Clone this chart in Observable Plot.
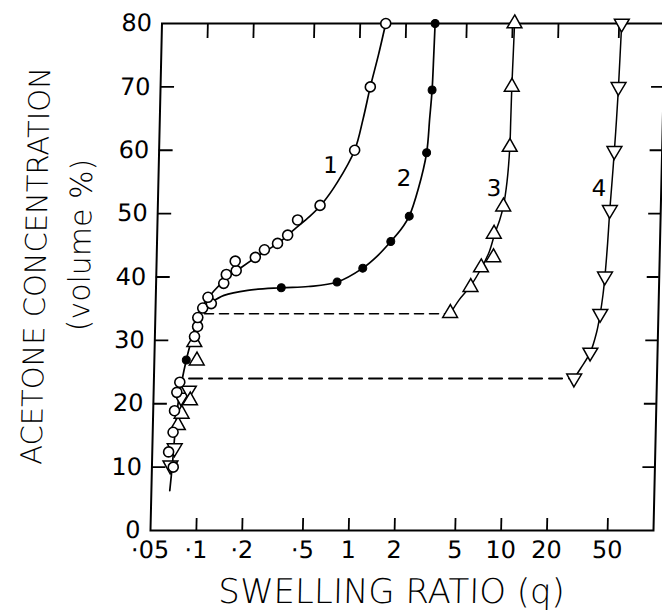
<!DOCTYPE html>
<html>
<head>
<meta charset="utf-8">
<script src="https://cdn.jsdelivr.net/npm/d3@7"></script>
<script src="https://cdn.jsdelivr.net/npm/@observablehq/plot@0.6"></script>
<style>
  html, body { margin: 0; padding: 0; background: #fff; overflow: hidden; }
</style>
</head>
<body>
<div id="chart"></div>
<script>
// ---- Axis ticks and labels ----
const xTickValues = [0.05, 0.1, 0.2, 0.5, 1, 2, 5, 10, 20, 50];
const xTickLabels = ["·05", "·1", "·2", "·5", "1", "2", "5", "10", "20", "50"];
const xInnerTicks = [0.1, 0.2, 0.5, 1, 2, 5, 10, 20, 50];
const yTickValues = [0, 10, 20, 30, 40, 50, 60, 70, 80];
const yInnerTicks = [10, 20, 30, 40, 50, 60, 70];
const xTitle = "SWELLING RATIO (q)";
const yTitle = "ACETONE CONCENTRATION";
const yTitle2 = "(volume %)";

// ---- Curve 1 : open circles  [q, acetone %] ----
const c1Markers = [
  [0.069, 10], [0.064, 12.4], [0.068, 15.5], [0.069, 18.9], [0.071, 21.8], [0.074, 23.4], [0.091, 30.6],
  [0.095, 32.2], [0.095, 33.6], [0.102, 35.1], [0.116, 35.8], [0.110, 36.8],
  [0.139, 39.0], [0.144, 40.4], [0.167, 41.0], [0.164, 42.5], [0.222, 43.1],
  [0.254, 44.3], [0.309, 45.3], [0.359, 46.6], [0.415, 49.0], [0.58, 51.3],
  [0.96, 60], [1.19, 70], [1.47, 80]
];
const c1Line = [
  [0.066, 6.3], [0.068, 10.3], [0.070, 15.3], [0.073, 20.5], [0.081, 26.9], [0.089, 31],
  [0.095, 34], [0.104, 35.8], [0.12, 37.8], [0.145, 39.8], [0.18, 41.5], [0.24, 43.6],
  [0.31, 45.3], [0.40, 47.6], [0.5, 49.6], [0.6, 51.6], [0.75, 55], [0.96, 60],
  [1.08, 65], [1.19, 70], [1.33, 75], [1.47, 80]
];

// ---- Curve 2 : filled circles ----
const c2Markers = [
  [0.081, 26.9], [0.332, 38.3], [0.77, 39.2], [1.13, 41.4], [1.71, 45.6],
  [2.24, 49.6], [2.85, 59.6], [3.03, 69.5], [3.1, 80]
];
const c2Line = [
  [0.116, 36.0], [0.14, 37.1], [0.2, 37.9], [0.332, 38.3], [0.5, 38.5], [0.77, 39.2],
  [1.13, 41.4], [1.4, 43.3], [1.71, 45.6], [2.0, 47.6], [2.24, 49.6], [2.55, 54],
  [2.85, 59.6], [2.95, 65], [3.03, 69.5], [3.07, 75], [3.1, 80]
];

// ---- Curve 3 : open triangles ----
const c3Markers = [
  [0.073, 16.6], [0.077, 18.4], [0.087, 20.5], [0.095, 26.8], [0.091, 29.7],
  [4.3, 34.3], [5.8, 38.4], [6.75, 41.5], [8.1, 43.1], [8.1, 46.8],
  [9.25, 51.1], [10.0, 60.5], [10.1, 70], [10.3, 80]
];
const c3Line = [
  [4.3, 34.2], [4.9, 36.4], [5.8, 38.6], [6.75, 41.3], [7.6, 44], [8.2, 46.8],
  [8.8, 49], [9.25, 51.1], [9.7, 55], [10.0, 60.5], [10.05, 65], [10.1, 70], [10.2, 75], [10.3, 80]
];

// ---- Curve 4 : inverted open triangles ----
const c4Markers = [
  [0.066, 10.3], [0.070, 13], [0.076, 21], [0.085, 22.1],
  [28.6, 24.0], [36.2, 28.1], [41.5, 34.2], [44, 40.1], [46.3, 50.6],
  [48.6, 59.9], [50.6, 70], [52, 80]
];
const c4Line = [
  [28.6, 24], [31.5, 25.6], [36.2, 28.1], [39.5, 31.2], [41.5, 34.2], [43, 37.2],
  [44, 40.1], [45.3, 45.3], [46.3, 50.6], [47.5, 55.3], [48.6, 59.9], [49.7, 65],
  [50.6, 70], [51.3, 75], [52, 80]
];

// ---- Dashed transition lines ----
const dashUpper = [[0.105, 34.2], [4.3, 34.2]];
const dashLower = [[0.085, 24.0], [28.6, 24.0]];

// ---- Curve number labels ----
const curveLabelText = ["1", "2", "3", "4"];
const curveLabelX = [0.67, 2.04, 7.98, 39];
const curveLabelY = [57.6, 55.5, 53.9, 53.9];
const curveLabels = curveLabelText.map((t, i) => ({t, x: curveLabelX[i], y: curveLabelY[i]}));

// ---------------------------------------------------
const W = 662, H = 611;
const mL = 150, mR = 9, mT = 23, mB = 81;
const fw = W - mL - mR, fh = H - mT - mB;
const qx = d => d[0], qy = d => d[1];

const invTriangle = {
  draw(context, size) {
    const s3 = Math.sqrt(3);
    const y = -Math.sqrt(size / (s3 * 3));
    context.moveTo(0, -y * 2);
    context.lineTo(-s3 * y, y);
    context.lineTo(s3 * y, y);
    context.closePath();
  }
};

const font = "DejaVu Sans, Liberation Sans, sans-serif";

const chart = Plot.plot({
  width: W, height: H,
  marginLeft: mL, marginRight: mR, marginTop: mT, marginBottom: mB,
  style: {fontFamily: font, background: "#fff", color: "#000"},
  x: {type: "log", domain: [0.05, 100], label: null, axis: null},
  y: {domain: [0, 80], label: null},
  marks: [
    // tick labels
    Plot.text(xTickValues, {x: d => d, text: (d, i) => xTickLabels[i], frameAnchor: "bottom", lineAnchor: "top", dy: 10, fontSize: 24, fill: "#000"}),
    Plot.axisY(yTickValues, {tickSize: 0, tickPadding: 10, fontSize: 24, label: null}),
    // inward tick marks on all four sides
    Plot.tickX(xInnerTicks, {x: d => d, insetTop: fh - 12, stroke: "#000", strokeWidth: 1.8}),
    Plot.tickX(xInnerTicks, {x: d => d, insetBottom: fh - 15, stroke: "#000", strokeWidth: 1.8}),
    Plot.tickY(yInnerTicks, {y: d => d, insetRight: fw - 14, stroke: "#000", strokeWidth: 1.8}),
    Plot.tickY(yInnerTicks, {y: d => d, insetLeft: fw - 12, stroke: "#000", strokeWidth: 1.8}),
    Plot.frame({stroke: "#000", strokeWidth: 2}),
    // dashed lines
    Plot.line(dashUpper, {x: qx, y: qy, stroke: "#000", strokeWidth: 1.6, strokeDasharray: "9,6"}),
    Plot.line(dashLower, {x: qx, y: qy, stroke: "#000", strokeWidth: 2, strokeDasharray: "13,7"}),
    // curves
    Plot.line(c1Line, {x: qx, y: qy, curve: "catmull-rom", stroke: "#000", strokeWidth: 1.7}),
    Plot.line(c2Line, {x: qx, y: qy, curve: "catmull-rom", stroke: "#000", strokeWidth: 1.7}),
    Plot.line(c3Line, {x: qx, y: qy, curve: "catmull-rom", stroke: "#000", strokeWidth: 1.5}),
    Plot.line(c4Line, {x: qx, y: qy, curve: "catmull-rom", stroke: "#000", strokeWidth: 1.5}),
    // markers
    Plot.dot(c4Markers, {x: qx, y: qy, symbol: invTriangle, r: 5.5, fill: "#fff", stroke: "#000", strokeWidth: 1.5}),
    Plot.dot(c3Markers, {x: qx, y: qy, symbol: "triangle", r: 5.5, fill: "#fff", stroke: "#000", strokeWidth: 1.5}),
    Plot.dot(c1Markers, {x: qx, y: qy, r: 5, fill: "#fff", stroke: "#000", strokeWidth: 1.6}),
    Plot.dot(c2Markers, {x: qx, y: qy, r: 4, fill: "#000", stroke: "#000", strokeWidth: 1}),
    // curve numbers
    Plot.text(curveLabels, {x: "x", y: "y", text: "t", fontSize: 23, fill: "#000"}),
    // axis titles
    Plot.text([xTitle], {frameAnchor: "bottom", dx: -9, dy: 62, fontSize: 34, fontWeight: 300, textAnchor: "middle", lineAnchor: "middle", fill: "#000"}),
    Plot.text([yTitle], {frameAnchor: "left", rotate: -90, dx: -120, dy: -11, fontSize: 29, fontWeight: 300, textAnchor: "middle", lineAnchor: "middle", fill: "#000"}),
    Plot.text([yTitle2], {frameAnchor: "left", rotate: -90, dx: -76, dy: -32, fontSize: 30, fontWeight: 300, textAnchor: "middle", lineAnchor: "middle", fill: "#000"})
  ]
});
// the scanned original is slightly sheared (top edge sits right of the bottom edge)
chart.style.transformOrigin = "0px 530px";
chart.style.transform = "skewX(-1.3deg)";
document.getElementById("chart").appendChild(chart);
</script>
</body>
</html>
